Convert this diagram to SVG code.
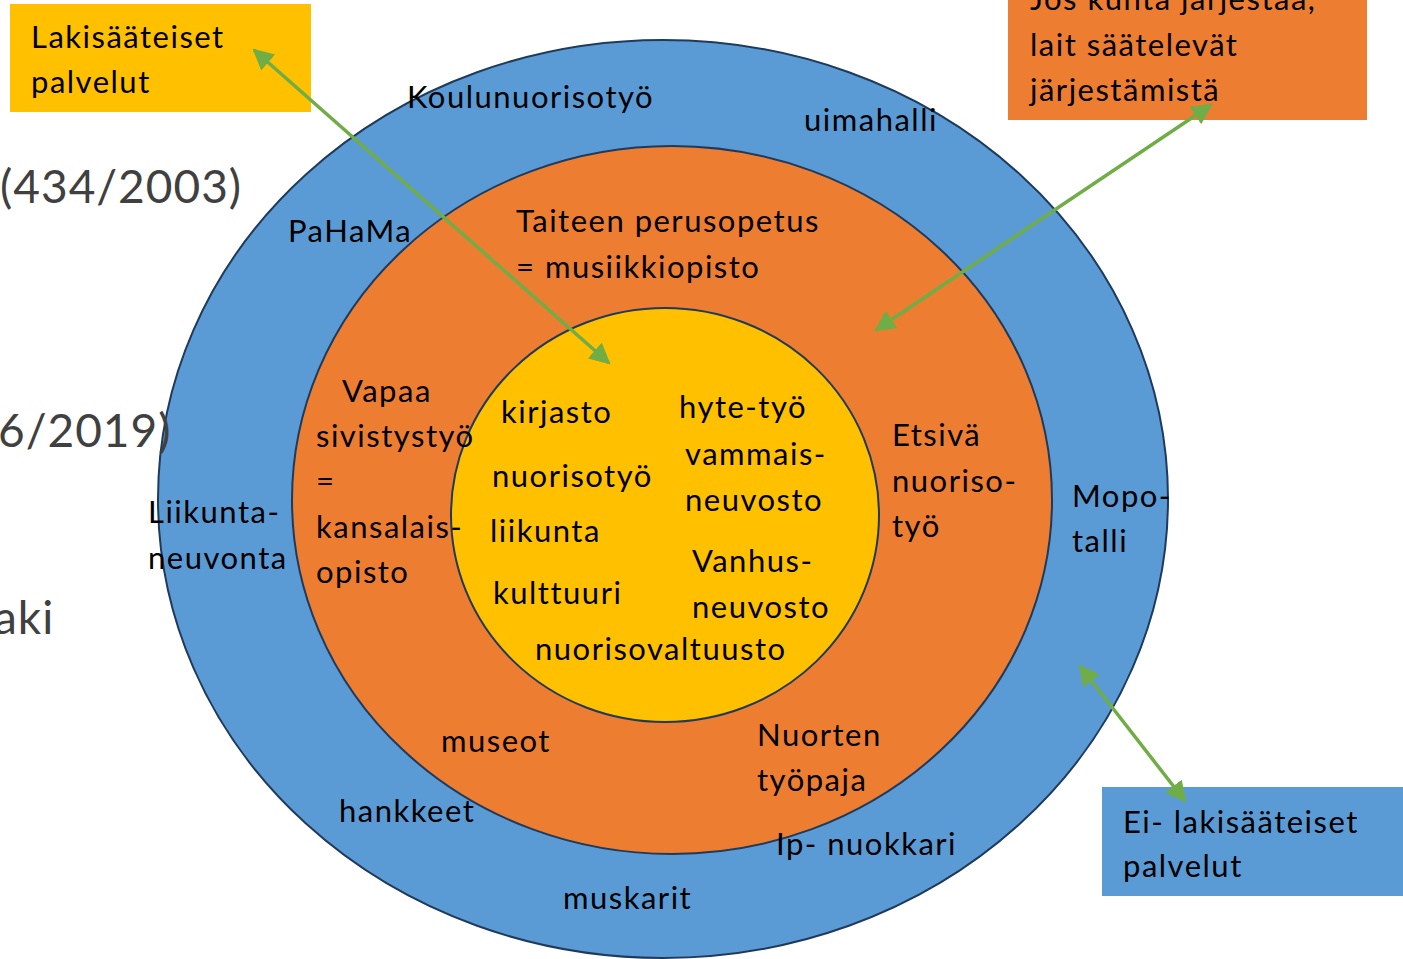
<svg xmlns="http://www.w3.org/2000/svg" width="1403" height="959" viewBox="0 0 1403 959">
<style>
.t{font-family:Lato,"Open Sans","Liberation Sans",sans-serif;font-size:31px;letter-spacing:1.5px;fill:#000}
.g{font-family:Lato,"Open Sans","Liberation Sans",sans-serif;font-size:46px;letter-spacing:1px;fill:#404040}
.c{stroke:#1F3A5A;stroke-width:2}
.a{stroke:#70AD47;stroke-width:3.5;fill:none;marker-start:url(#ah);marker-end:url(#ah)}
</style>
<defs>
<marker id="ah" viewBox="0 0 10 10" refX="9" refY="5" markerWidth="6" markerHeight="6" orient="auto-start-reverse" markerUnits="strokeWidth">
<path d="M0,0 L10,5 L0,10 z" fill="#70AD47"/>
</marker>
</defs>
<rect width="1403" height="959" fill="#fff"/>
<g id="rings">
<ellipse id="outer-ring" class="c" cx="663" cy="499" rx="505" ry="459" fill="#5B9BD5"/>
<ellipse id="middle-ring" class="c" cx="672" cy="500" rx="380" ry="354" fill="#ED7D31"/>
<ellipse id="inner-ring" class="c" cx="665" cy="515" rx="214" ry="207" fill="#FFC000"/>
</g>
<g id="bg-text">
<text class="g" x="0" y="203">(434/2003)</text>
<text class="g" x="-2" y="447">6/2019)</text>
<text class="g" x="-6" y="634">aki</text>
</g>
<g id="outer">
<text class="t" x="407" y="108">Koulunuorisotyö</text>
<text class="t" x="804" y="131">uimahalli</text>
<text class="t" x="288" y="242">PaHaMa</text>
<text class="t" x="148" y="523">Liikunta-</text>
<text class="t" x="148" y="569">neuvonta</text>
<text class="t" x="1072" y="507">Mopo-</text>
<text class="t" x="1072" y="552">talli</text>
<text class="t" x="339" y="822">hankkeet</text>
<text class="t" x="776" y="855">Ip- nuokkari</text>
<text class="t" x="563" y="909">muskarit</text>
</g>
<g id="middle">
<text class="t" x="516" y="232">Taiteen perusopetus</text>
<text class="t" x="516" y="278">= musiikkiopisto</text>
<text class="t" x="342" y="402">Vapaa</text>
<text class="t" x="316" y="447">sivistystyö</text>
<text class="t" x="316" y="492">=</text>
<text class="t" x="316" y="538">kansalais-</text>
<text class="t" x="316" y="583">opisto</text>
<text class="t" x="892" y="446">Etsivä</text>
<text class="t" x="892" y="492">nuoriso-</text>
<text class="t" x="892" y="537">työ</text>
<text class="t" x="441" y="752">museot</text>
<text class="t" x="757" y="746">Nuorten</text>
<text class="t" x="757" y="791">työpaja</text>
</g>
<g id="inner">
<text class="t" x="501" y="423">kirjasto</text>
<text class="t" x="679" y="418">hyte-työ</text>
<text class="t" x="685" y="465">vammais-</text>
<text class="t" x="685" y="511">neuvosto</text>
<text class="t" x="492" y="487">nuorisotyö</text>
<text class="t" x="490" y="542">liikunta</text>
<text class="t" x="692" y="572">Vanhus-</text>
<text class="t" x="692" y="618">neuvosto</text>
<text class="t" x="493" y="604">kulttuuri</text>
<text class="t" x="535" y="660">nuorisovaltuusto</text>
</g>
<g id="legend-lakisaateiset">
<rect x="10" y="4" width="301" height="108" fill="#FFC000"/>
<text class="t" x="31" y="48">Lakisääteiset</text>
<text class="t" x="31" y="93">palvelut</text>
</g>
<g id="legend-jos">
<rect x="1008" y="0" width="359" height="120" fill="#ED7D31"/>
<text class="t" x="1030" y="10">Jos kunta järjestää,</text>
<text class="t" x="1030" y="56">lait säätelevät</text>
<text class="t" x="1030" y="101">järjestämistä</text>
</g>
<g id="legend-ei">
<rect x="1102" y="787" width="301" height="109" fill="#5B9BD5"/>
<text class="t" x="1123" y="833">Ei- lakisääteiset</text>
<text class="t" x="1123" y="877">palvelut</text>
</g>
<g id="connectors">
<line class="a" x1="254" y1="50" x2="609" y2="363"/>
<line class="a" x1="1211" y1="105" x2="876" y2="330"/>
<line class="a" x1="1080" y1="666" x2="1185" y2="801"/>
</g>
</svg>
